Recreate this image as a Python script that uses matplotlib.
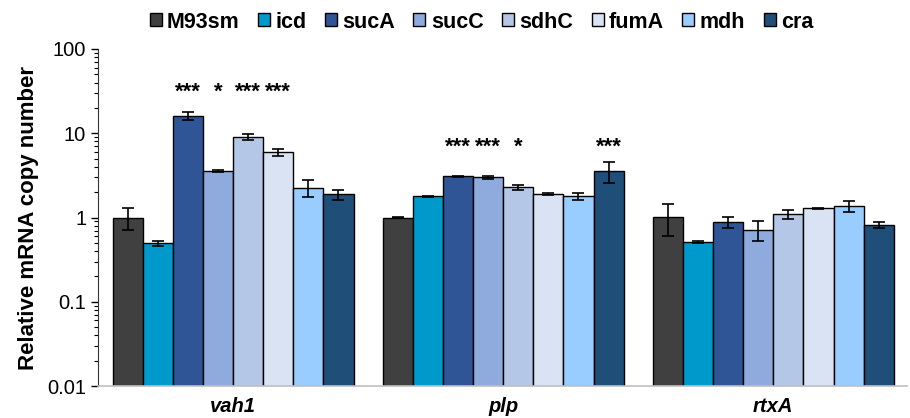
import numpy as np
import matplotlib
matplotlib.use("Agg")
import matplotlib.pyplot as plt
from matplotlib.ticker import LogLocator, NullFormatter, FixedLocator, FixedFormatter

plt.rcParams['font.family'] = ['Liberation Sans', 'DejaVu Sans']

genes = ['vah1', 'plp', 'rtxA']
strains = ['M93sm', 'icd', 'sucA', 'sucC', 'sdhC', 'fumA', 'mdh', 'cra']
colors = ['#404040', '#0099CC', '#2F5597', '#8FAADC', '#B4C7E7', '#DAE3F3', '#99CCFF', '#1F4E79']

# rows = strains, columns = genes
values = [
    [1.00, 1.00, 1.02],
    [0.495, 1.78, 0.51],
    [16.2, 3.07, 0.88],
    [3.58, 3.00, 0.72],
    [8.98, 2.29, 1.09],
    [5.91, 1.91, 1.28],
    [2.27, 1.78, 1.36],
    [1.875, 3.55, 0.82],
]
errors = [
    [0.28, 0.02, 0.42],
    [0.03, 0.03, 0.01],
    [1.9, 0.03, 0.13],
    [0.08, 0.15, 0.19],
    [0.7, 0.17, 0.13],
    [0.6, 0.05, 0.03],
    [0.53, 0.17, 0.2],
    [0.25, 1.0, 0.06],
]
stars = [
    ['', '', ''],
    ['', '', ''],
    ['***', '***', ''],
    ['*', '***', ''],
    ['***', '*', ''],
    ['***', '', ''],
    ['', '', ''],
    ['', '***', ''],
]
star_y = [31, 6.8, None]

fig = plt.figure(figsize=(9.1, 4.18), dpi=100)
ax = fig.add_axes([98/910, 1-386/418, 809/910, (386-49)/418])

n = len(strains)
group_w = 0.892
w = group_w / n
x = np.arange(len(genes))
for i, s in enumerate(strains):
    pos = x - group_w/2 + w*(i+0.5)
    ax.bar(pos, values[i], w, color=colors[i], edgecolor='black', linewidth=1.0,
           label=s, zorder=2)
    ax.errorbar(pos, values[i], yerr=errors[i], fmt='none', ecolor='black',
                elinewidth=1.2, capsize=4, capthick=1.2, zorder=3)
    for j in range(len(genes)):
        if stars[i][j]:
            ax.text(pos[j], star_y[j], stars[i][j], ha='center', va='center',
                    fontsize=16, fontweight='bold')

ax.set_yscale('log')
ax.set_ylim(0.01, 100)
ax.set_xlim(x[0] - 0.5, x[-1] + 0.5 - 0.005)
ax.yaxis.set_major_locator(FixedLocator([0.01, 0.1, 1, 10, 100]))
ax.yaxis.set_major_formatter(FixedFormatter(['0.01', '0.1', '1', '10', '100']))
ax.yaxis.set_minor_locator(LogLocator(base=10, subs=np.arange(2, 10)))
ax.yaxis.set_minor_formatter(NullFormatter())
ax.tick_params(axis='y', which='major', length=5, width=1, labelsize=14.5, direction='out')
ax.tick_params(axis='y', which='minor', length=3, width=0.8, direction='out')
ax.set_xticks(x)
ax.set_xticklabels(genes, fontsize=14.5, fontweight='bold', fontstyle='italic')
ax.tick_params(axis='x', length=0, pad=8)
ax.spines['top'].set_visible(False)
ax.spines['right'].set_visible(False)
ax.spines['left'].set_color('#333333')
ax.spines['bottom'].set_color('#BFBFBF')
ax.spines['bottom'].set_linewidth(1.2)
ax.set_ylabel('Relative mRNA copy number', fontsize=16, fontweight='bold', labelpad=6)

ax.legend(loc='center', bbox_to_anchor=(481.5/910, 1-22/418), bbox_transform=fig.transFigure,
          ncol=8, frameon=False,
          prop={'size': 15.5, 'weight': 'bold'}, handlelength=0.56, handleheight=0.56,
          handletextpad=0.25, columnspacing=0.85, borderpad=0)

fig.savefig('out.png', dpi=100)
